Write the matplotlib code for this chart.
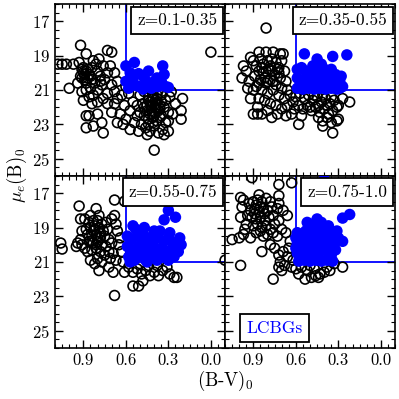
import numpy as np
import matplotlib
matplotlib.use("Agg")
import matplotlib.pyplot as plt
from matplotlib.ticker import MultipleLocator

plt.rcParams['font.family'] = 'serif'
plt.rcParams['font.serif'] = ['cmr10']
plt.rcParams['mathtext.fontset'] = 'cm'
plt.rcParams['axes.formatter.use_mathtext'] = True

# redshift bins
z_labels = ['z=0.1-0.35', 'z=0.35-0.55', 'z=0.55-0.75', 'z=0.75-1.0']

# (B-V)_0, mu_e(B)_0 -- all galaxies (open) and LCBGs (filled)
all_1 = [(1.08,19.5),(1.05,19.5),(1.02,19.5),(0.97,19.5),(1.00,20.9),(0.92,18.4),(0.88,18.9),(0.73,18.7),
         (0.70,18.8),(0.00,18.8),(0.40,24.5),
         (0.93,19.4),(0.91,19.8),(0.90,20.0),(0.88,19.9),(0.86,20.1),(0.92,20.2),(0.89,20.4),(0.87,20.3),
         (0.84,19.7),(0.83,19.3),(0.81,19.5),(0.80,19.9),(0.78,20.2),(0.82,20.6),(0.85,20.9),(0.88,21.0),
         (0.91,21.1),(0.86,21.4),(0.83,21.3),(0.80,21.0),(0.77,20.7),(0.75,20.4),(0.73,20.0),(0.76,19.6),
         (0.79,19.2),(0.71,19.6),(0.68,20.0),(0.66,20.5),(0.70,20.7),(0.73,21.2),(0.76,21.5),(0.80,21.7),
         (0.84,21.8),(0.88,22.5),(0.86,22.5),(0.88,23.2),(0.83,23.1),(0.77,22.9),(0.76,23.5),(0.73,21.8),
         (0.68,21.8),(0.70,22.3),(0.90,21.6),(0.94,20.6),(0.80,22.4),(0.78,20.5),(0.84,20.4),(0.90,19.7),
         (0.89,20.1),(0.87,19.8),(0.91,20.3),(0.85,20.2),(0.88,20.6),
         (0.66,21.5),(0.63,21.3),(0.61,21.9),(0.64,22.4),(0.60,22.7),(0.57,22.2),(0.55,21.7),(0.58,21.2),
         (0.62,23.0),(0.57,23.3),(0.54,22.9),(0.52,22.5),(0.60,20.8),(0.66,22.9),(0.68,21.1),
         (0.50,21.3),(0.47,21.1),(0.44,21.4),(0.41,21.2),(0.38,21.5),(0.35,21.3),(0.32,21.6),(0.29,21.4),
         (0.48,21.8),(0.45,21.9),(0.42,22.0),(0.39,21.8),(0.36,22.1),(0.33,22.0),(0.30,22.3),(0.50,22.3),
         (0.47,22.5),(0.44,22.7),(0.41,22.6),(0.38,22.8),(0.35,22.5),(0.32,22.9),(0.49,23.0),(0.46,23.2),
         (0.43,23.4),(0.40,23.1),(0.37,23.5),(0.34,23.3),(0.45,23.6),(0.51,23.4),(0.43,21.7),(0.40,22.3),
         (0.37,21.0),(0.46,20.9),(0.52,21.9),(0.33,23.6),(0.30,23.4),(0.27,22.4),(0.20,21.5),(0.21,22.2),
         (0.21,22.7),(0.25,21.8),(0.28,21.1),(0.30,22.8),(0.42,22.2),(0.39,22.0),(0.36,22.6),(0.47,22.0),
         (0.44,21.6),(0.41,21.5),(0.38,21.3),(0.35,21.7),(0.42,21.9),(0.39,21.6),(0.36,21.9),(0.43,22.4),
         (0.40,22.5),(0.37,22.2),(0.45,22.2),(0.41,21.4),(0.38,22.1),(0.44,23.0),(0.41,22.9)]
lcbg_1 = [(0.60,19.6),(0.54,19.4),(0.51,20.05),(0.44,19.9),(0.34,19.6),(0.33,20.1),(0.60,20.5),(0.55,20.4),
          (0.51,20.8),(0.45,20.6),(0.42,20.8),(0.40,20.5),(0.37,20.8),(0.32,20.8),(0.35,20.5),(0.30,20.85),
          (0.42,20.9),(0.48,20.95),(0.55,20.7),(0.57,20.0),(0.38,20.3),(0.47,20.3),(0.58,20.9)]

all_2 = [(0.81,17.4),(0.90,22.4),(0.87,22.4),(0.84,22.4),(0.77,22.6),(0.67,22.5),(0.63,22.4),(0.58,23.0),
         (0.50,22.0),(0.41,23.1),(0.34,23.5),(0.31,22.8),(0.30,22.7),(0.22,21.7),
         (0.97,19.6),(0.95,19.9),(0.93,20.5),(0.92,21.5),(0.86,18.8),(0.81,18.8),(0.76,18.8),(0.71,18.9),
         (0.90,19.3),(0.88,19.6),(0.85,19.2),(0.83,19.5),(0.80,19.3),(0.77,19.2),(0.74,19.4),(0.72,19.7),
         (0.70,19.3),(0.68,19.9),(0.86,19.9),(0.83,20.0),(0.79,19.8),(0.75,20.1),(0.71,20.3),(0.67,20.5),
         (0.89,20.2),(0.85,20.4),(0.81,20.6),(0.78,20.4),(0.74,20.7),(0.70,20.9),(0.66,21.0),(0.88,20.8),
         (0.84,21.0),(0.80,21.2),(0.76,21.0),(0.72,21.3),(0.68,21.5),(0.64,21.3),(0.86,21.5),(0.82,21.6),
         (0.78,21.8),(0.74,21.9),(0.70,22.1),(0.66,21.9),(0.62,21.7),(0.90,21.0),(0.94,20.9),(0.98,20.3),
         (0.87,22.0),(0.80,22.2),(0.73,22.4),(0.92,19.1),(0.78,19.6),(0.82,20.3),(0.76,20.5),(0.72,20.0),
         (0.69,18.9),(0.84,19.7),(0.81,19.9),(0.77,19.9),(0.73,19.8),(0.80,20.5),(0.86,20.6),
         (0.60,21.4),(0.57,21.2),(0.54,21.5),(0.51,21.3),(0.48,21.6),(0.45,21.4),(0.42,21.7),(0.39,21.5),
         (0.36,21.8),(0.33,21.6),(0.30,21.9),(0.27,21.5),(0.58,21.9),(0.55,22.1),(0.52,21.9),(0.49,22.2),
         (0.46,22.0),(0.43,22.3),(0.40,22.1),(0.37,22.4),(0.34,22.2),(0.31,22.0),(0.44,22.6),(0.41,22.8),
         (0.38,22.6),(0.35,22.9),(0.56,22.5),(0.61,22.1),(0.47,21.3),(0.41,21.3),(0.35,21.4),(0.38,21.9),
         (0.44,21.9)]
lcbg_2 = [(0.54,18.9),(0.45,19.2),(0.34,19.05),(0.24,18.96),(0.28,20.2),(0.27,20.8),
          (0.59,19.8),(0.56,19.7),(0.53,19.9),(0.50,20.1),(0.47,19.8),(0.44,20.0),(0.41,19.7),(0.38,20.0),
          (0.35,19.8),(0.32,20.1),(0.59,20.3),(0.56,20.5),(0.53,20.3),(0.50,20.6),(0.47,20.4),(0.44,20.7),
          (0.41,20.4),(0.38,20.7),(0.35,20.5),(0.32,20.7),(0.29,20.5),(0.59,20.9),(0.55,20.95),(0.51,20.9),
          (0.47,20.95),(0.43,20.9),(0.39,20.95),(0.35,20.9),(0.31,20.95),(0.42,19.5),(0.48,19.6),(0.57,20.7),
          (0.45,20.2),(0.36,20.2),(0.29,20.9)]

all_3 = [(0.93,17.75),(0.68,17.4),(0.61,17.47),(1.06,19.9),(1.05,20.25),(0.68,22.95),(0.79,21.5),(0.69,21.6),
         (0.61,21.6),(0.55,22.4),(0.51,22.4),(0.48,22.1),(0.26,21.9),(0.24,21.9),(-0.10,20.9),
         (0.92,18.5),(0.89,18.5),(0.91,19.2),(0.92,19.7),(0.91,20.0),(0.87,20.4),(0.85,20.9),(0.72,21.3),
         (0.68,18.3),(0.67,18.8),(0.66,19.2),(0.65,20.0),(0.71,20.8),(0.67,20.9),
         (0.86,18.7),(0.83,18.6),(0.80,18.6),(0.77,18.8),(0.74,18.7),(0.85,19.0),(0.82,19.1),(0.79,19.0),
         (0.76,19.2),(0.73,19.1),(0.87,19.4),(0.84,19.5),(0.81,19.4),(0.78,19.6),(0.75,19.5),(0.72,19.7),
         (0.86,19.8),(0.83,19.9),(0.80,19.8),(0.77,20.0),(0.74,20.1),(0.70,19.9),(0.84,20.3),(0.81,20.2),
         (0.78,20.4),(0.75,20.6),(0.72,20.4),(0.69,20.5),(0.80,20.8),(0.77,21.0),(0.82,21.1),(0.88,19.1),
         (0.89,20.2),(0.94,19.9),(0.95,20.1),(0.70,18.5),(0.64,19.6),(0.63,20.4),(0.62,21.0),(0.85,18.3),
         (0.79,18.3),(0.81,17.9),(0.83,19.2),(0.80,19.6),(0.82,18.9),(0.78,19.3),(0.84,19.8),(0.81,20.0),
         (0.58,21.3),(0.55,21.6),(0.52,21.4),(0.49,21.7),(0.46,21.5),(0.43,21.8),(0.40,21.6),(0.37,21.8),
         (0.34,21.5),(0.31,21.3),(0.50,21.1),(0.44,21.2),(0.38,21.2),(0.29,21.7)]
lcbg_3 = [(0.30,18.0),(0.25,18.4),(0.33,18.55),(0.55,18.9),(0.47,19.0),(0.40,19.2),(0.29,19.3),(0.22,19.6),
          (0.21,20.0),(0.23,20.4),
          (0.59,19.5),(0.56,19.7),(0.52,19.5),(0.48,19.8),(0.44,19.6),(0.41,19.9),(0.37,19.6),(0.33,19.8),
          (0.30,19.6),(0.27,19.9),(0.59,20.1),(0.55,20.3),(0.51,20.1),(0.47,20.4),(0.43,20.2),(0.39,20.4),
          (0.35,20.2),(0.31,20.4),(0.27,20.3),(0.58,20.7),(0.54,20.9),(0.50,20.6),(0.46,20.9),(0.42,20.7),
          (0.38,20.9),(0.34,20.7),(0.30,20.9),(0.26,20.7),(0.53,19.1),(0.36,19.2),(0.57,21.0),(0.45,21.0),
          (0.48,19.3)]

all_4 = [(0.91,16.1),(0.72,16.5),(0.63,16.4),(1.05,19.7),(1.00,19.6),(0.97,19.4),(0.99,21.2),(0.76,22.0),
         (0.72,21.3),(0.68,21.2),(0.63,21.3),(0.535,22.0),(0.46,21.8),(0.43,21.7),(0.40,21.6),(0.33,21.1),
         (0.27,21.3),
         (0.99,17.25),(0.97,17.4),(0.98,17.8),(0.99,18.4),(0.95,18.8),(0.72,17.15),(0.72,17.6),(0.73,17.9),
         (0.66,18.3),(0.67,19.3),(0.64,19.8),(0.65,20.2),(0.84,20.4),(0.78,20.0),(0.72,20.6),(0.71,21.0),
         (0.83,19.5),
         (0.93,17.6),(0.90,17.5),(0.87,17.4),(0.84,17.5),(0.81,17.3),(0.78,17.5),(0.92,18.0),(0.89,17.9),
         (0.86,18.1),(0.83,17.9),(0.80,18.0),(0.77,17.8),(0.94,18.3),(0.91,18.4),(0.88,18.5),(0.85,18.4),
         (0.82,18.6),(0.79,18.4),(0.76,18.3),(0.90,18.9),(0.87,18.8),(0.84,19.0),(0.81,18.9),(0.78,19.1),
         (0.75,18.8),(0.72,18.6),(0.88,19.3),(0.85,19.2),(0.80,19.4),(0.76,19.3),(0.73,19.5),(0.70,19.1),
         (0.69,18.0),(0.86,17.1),(0.92,19.6),(0.96,19.1),(0.75,20.2),(0.69,20.4),(0.66,20.7),(0.70,21.5),
         (0.62,20.9),(0.60,21.4),(0.58,21.7),(0.56,21.3),(0.52,21.5),(0.49,21.9),(0.47,21.4),(0.44,21.9),
         (0.38,21.3),(0.36,21.5),(0.50,21.2),(0.88,17.7),(0.85,17.8),(0.82,18.2),(0.89,18.2)]
lcbg_4 = [(0.40,16.2),(0.22,18.24),(0.27,18.45),(0.45,18.5),(0.52,18.7),(0.27,19.8),
          (0.59,19.3),(0.56,19.5),(0.53,19.2),(0.50,19.4),(0.47,19.1),(0.44,19.3),(0.41,19.0),(0.38,19.2),
          (0.35,19.4),(0.48,18.8),(0.42,18.7),(0.59,19.9),(0.56,20.1),(0.53,19.8),(0.50,20.0),(0.47,19.7),
          (0.44,19.9),(0.41,19.6),(0.38,19.8),(0.35,20.0),(0.32,19.8),(0.30,19.6),(0.59,20.5),(0.56,20.7),
          (0.53,20.4),(0.50,20.6),(0.47,20.3),(0.44,20.5),(0.41,20.2),(0.38,20.4),(0.35,20.6),(0.32,20.3),
          (0.58,20.95),(0.54,20.9),(0.50,20.95),(0.46,20.9),(0.42,20.95),(0.38,20.9),(0.34,20.95),(0.60,19.6),
          (0.60,20.2),(0.37,18.9),(0.31,19.2)]

all_gal = [all_1, all_2, all_3, all_4]
lcbgs = [lcbg_1, lcbg_2, lcbg_3, lcbg_4]

# LCBG selection cuts
color_cut = 0.6
sb_cut = 21.0

fig, axes = plt.subplots(2, 2, figsize=(3.99, 3.99), dpi=100, sharex=True, sharey=True)
fig.subplots_adjust(left=0.138, right=0.99, top=0.99, bottom=0.128, wspace=0, hspace=0)

for i, ax in enumerate(axes.flat):
    a = np.array(all_gal[i])
    b = np.array(lcbgs[i])
    ax.plot([color_cut, color_cut], [15, sb_cut], color='blue', lw=1.3, zorder=1)
    ax.plot([color_cut, -0.5], [sb_cut, sb_cut], color='blue', lw=1.3, zorder=1)
    ax.scatter(a[:, 0], a[:, 1], s=50, facecolors='none', edgecolors='black', linewidths=1.2, zorder=2)
    ax.scatter(b[:, 0], b[:, 1], s=68, color='blue', edgecolors='none', zorder=3)
    ax.text(0.955, 0.95, z_labels[i], transform=ax.transAxes, ha='right', va='top', fontsize=12.5,
            bbox=dict(boxstyle='square,pad=0.35', fc='white', ec='black', lw=1.3), zorder=5)
    ax.set_xlim(1.1, -0.1)
    ax.set_ylim(26, 16)
    ax.xaxis.set_minor_locator(MultipleLocator(0.05))
    ax.yaxis.set_minor_locator(MultipleLocator(0.5))
    ax.set_yticks([17, 19, 21, 23, 25])
    ax.set_xticks([0.9, 0.6, 0.3, 0.0])
    ax.set_xticklabels(['0.9', '0.6', '0.3', '0.0'])
    ax.tick_params(which='both', direction='in', top=True, right=True, labelsize=12)
    ax.tick_params(which='major', length=6, width=1)
    ax.tick_params(which='minor', length=3, width=0.8)
    for sp in ax.spines.values():
        sp.set_linewidth(1.2)

axes[1, 1].text(0.125, 0.07, 'LCBGs', transform=axes[1, 1].transAxes, ha='left', va='bottom',
                fontsize=12.5, color='blue',
                bbox=dict(boxstyle='square,pad=0.35', fc='white', ec='black', lw=1.3), zorder=5)

fig.text(0.565, 0.015, '(B-V)$_0$', ha='center', va='bottom', fontsize=13.5)
fig.text(0.012, 0.56, r'$\mu_e$(B)$_0$', ha='left', va='center', rotation=90, fontsize=13.5)

plt.savefig('out.png', dpi=100)
